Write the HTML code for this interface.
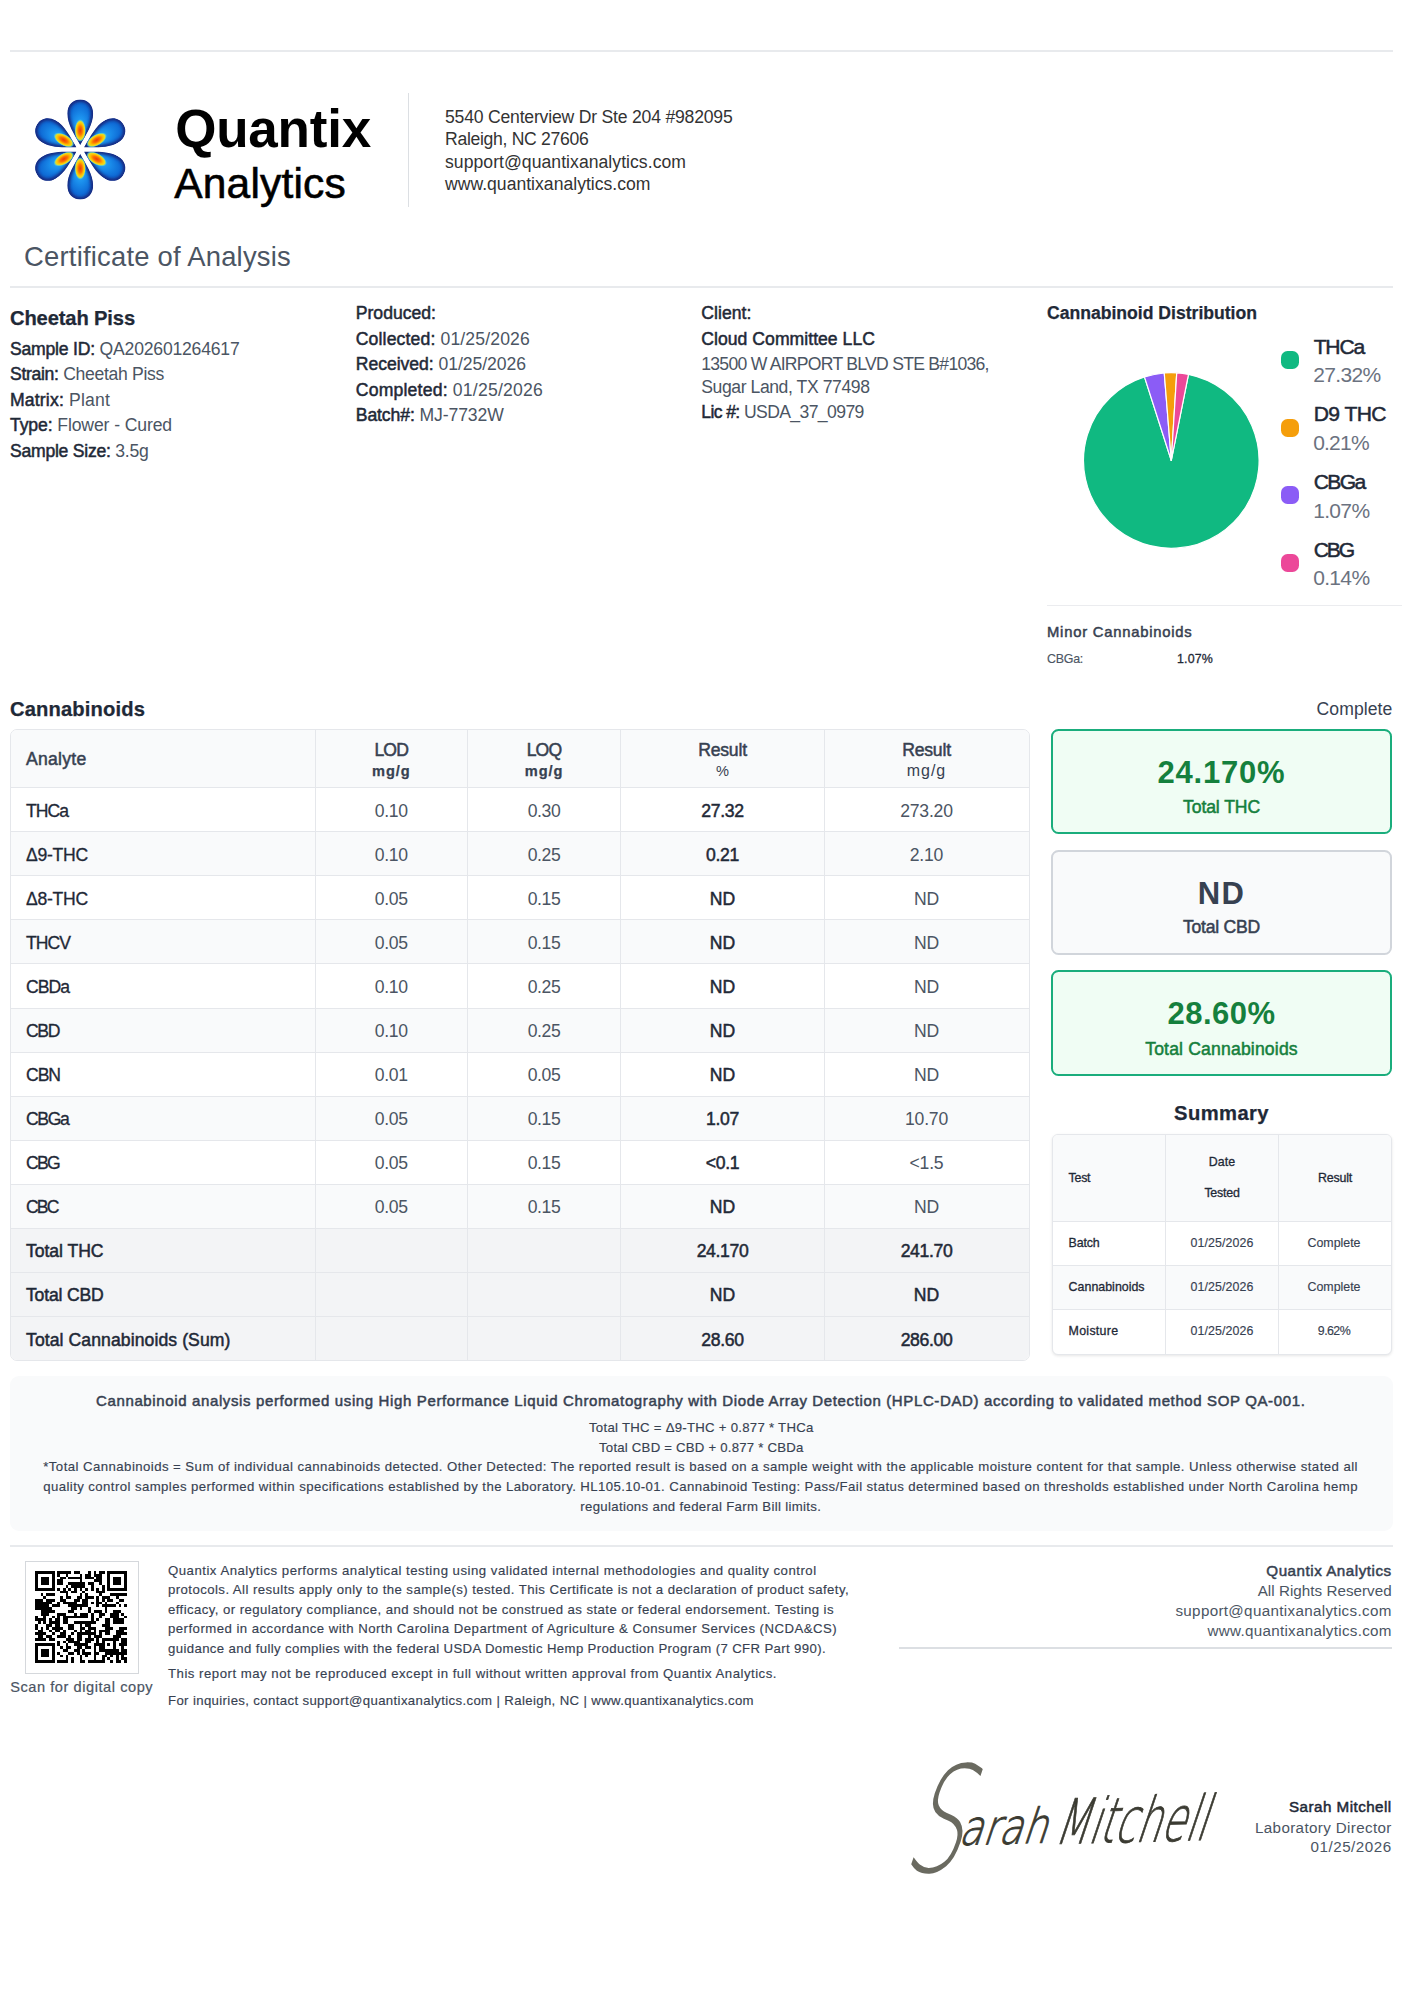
<!DOCTYPE html>
<html lang="en"><head><meta charset="utf-8"><title>Certificate of Analysis - Quantix Analytics</title>
<style>
html,body{margin:0;padding:0;background:#fff}
body{width:1414px;height:2000px;position:relative;overflow:hidden;font-family:'Liberation Sans', sans-serif;}
.t{position:absolute;white-space:nowrap;line-height:1;}
.t::before{content:'';display:inline-block;width:0;height:100px}
.t b{font-weight:400;-webkit-text-stroke:0.5px;color:#1f2937}
</style></head><body>
<div style="position:absolute;left:9.5px;top:50px;width:1383px;height:1.6px;background:#e8eaed"></div>
<div style="position:absolute;left:407.5px;top:93px;width:1.4px;height:114px;background:#dcdfe3"></div>
<div style="position:absolute;left:9.5px;top:286px;width:1383px;height:1.5px;background:#e8eaed"></div>
<svg style="position:absolute;left:0;top:60px" width="200" height="180" viewBox="0 60 200 180">
<defs>
<radialGradient id="pg" gradientUnits="userSpaceOnUse" cx="0" cy="-22" r="30" gradientTransform="translate(0,-22) scale(0.55,1) translate(0,22)">
<stop offset="0" stop-color="#2fb0fa"/><stop offset="0.4" stop-color="#1a8deb"/><stop offset="0.75" stop-color="#0f6cd6"/><stop offset="1" stop-color="#0e57c2"/>
</radialGradient>
<radialGradient id="hg" gradientUnits="userSpaceOnUse" cx="0" cy="-19" r="11.5" gradientTransform="translate(0,-19) scale(0.5,1) translate(0,19)">
<stop offset="0" stop-color="#ee3a06"/><stop offset="0.35" stop-color="#fb7300"/><stop offset="0.6" stop-color="#ffbe00"/><stop offset="0.78" stop-color="#e6de28"/><stop offset="0.88" stop-color="#62cdbf" stop-opacity="0.85"/><stop offset="1" stop-color="#2fb0fa" stop-opacity="0"/>
</radialGradient>
<filter id="bl" x="-30%" y="-30%" width="160%" height="160%"><feGaussianBlur stdDeviation="1.6"/></filter>
<clipPath id="pc"><path d="M0,-4.5 C5.8,-15 12.9,-25 12.9,-36 C12.9,-44.5 7.2,-50 0,-50 C-7.2,-50 -12.9,-44.5 -12.9,-36 C-12.9,-25 -5.8,-15 0,-4.5 Z"/></clipPath>
</defs>
<g transform="translate(80.25,149.5)">
<g transform="rotate(0)"><g clip-path="url(#pc)"><path d="M0,-4.5 C5.8,-15 12.9,-25 12.9,-36 C12.9,-44.5 7.2,-50 0,-50 C-7.2,-50 -12.9,-44.5 -12.9,-36 C-12.9,-25 -5.8,-15 0,-4.5 Z" fill="url(#pg)"/><path d="M0,-4.5 C5.8,-15 12.9,-25 12.9,-36 C12.9,-44.5 7.2,-50 0,-50 C-7.2,-50 -12.9,-44.5 -12.9,-36 C-12.9,-25 -5.8,-15 0,-4.5 Z" fill="none" stroke="#15257a" stroke-width="4.5" filter="url(#bl)"/><ellipse cx="0" cy="-19" rx="5.8" ry="11.5" fill="url(#hg)"/></g></g><g transform="rotate(60)"><g clip-path="url(#pc)"><path d="M0,-4.5 C5.8,-15 12.9,-25 12.9,-36 C12.9,-44.5 7.2,-50 0,-50 C-7.2,-50 -12.9,-44.5 -12.9,-36 C-12.9,-25 -5.8,-15 0,-4.5 Z" fill="url(#pg)"/><path d="M0,-4.5 C5.8,-15 12.9,-25 12.9,-36 C12.9,-44.5 7.2,-50 0,-50 C-7.2,-50 -12.9,-44.5 -12.9,-36 C-12.9,-25 -5.8,-15 0,-4.5 Z" fill="none" stroke="#15257a" stroke-width="4.5" filter="url(#bl)"/><ellipse cx="0" cy="-19" rx="5.8" ry="11.5" fill="url(#hg)"/></g></g><g transform="rotate(120)"><g clip-path="url(#pc)"><path d="M0,-4.5 C5.8,-15 12.9,-25 12.9,-36 C12.9,-44.5 7.2,-50 0,-50 C-7.2,-50 -12.9,-44.5 -12.9,-36 C-12.9,-25 -5.8,-15 0,-4.5 Z" fill="url(#pg)"/><path d="M0,-4.5 C5.8,-15 12.9,-25 12.9,-36 C12.9,-44.5 7.2,-50 0,-50 C-7.2,-50 -12.9,-44.5 -12.9,-36 C-12.9,-25 -5.8,-15 0,-4.5 Z" fill="none" stroke="#15257a" stroke-width="4.5" filter="url(#bl)"/><ellipse cx="0" cy="-19" rx="5.8" ry="11.5" fill="url(#hg)"/></g></g><g transform="rotate(180)"><g clip-path="url(#pc)"><path d="M0,-4.5 C5.8,-15 12.9,-25 12.9,-36 C12.9,-44.5 7.2,-50 0,-50 C-7.2,-50 -12.9,-44.5 -12.9,-36 C-12.9,-25 -5.8,-15 0,-4.5 Z" fill="url(#pg)"/><path d="M0,-4.5 C5.8,-15 12.9,-25 12.9,-36 C12.9,-44.5 7.2,-50 0,-50 C-7.2,-50 -12.9,-44.5 -12.9,-36 C-12.9,-25 -5.8,-15 0,-4.5 Z" fill="none" stroke="#15257a" stroke-width="4.5" filter="url(#bl)"/><ellipse cx="0" cy="-19" rx="5.8" ry="11.5" fill="url(#hg)"/></g></g><g transform="rotate(240)"><g clip-path="url(#pc)"><path d="M0,-4.5 C5.8,-15 12.9,-25 12.9,-36 C12.9,-44.5 7.2,-50 0,-50 C-7.2,-50 -12.9,-44.5 -12.9,-36 C-12.9,-25 -5.8,-15 0,-4.5 Z" fill="url(#pg)"/><path d="M0,-4.5 C5.8,-15 12.9,-25 12.9,-36 C12.9,-44.5 7.2,-50 0,-50 C-7.2,-50 -12.9,-44.5 -12.9,-36 C-12.9,-25 -5.8,-15 0,-4.5 Z" fill="none" stroke="#15257a" stroke-width="4.5" filter="url(#bl)"/><ellipse cx="0" cy="-19" rx="5.8" ry="11.5" fill="url(#hg)"/></g></g><g transform="rotate(300)"><g clip-path="url(#pc)"><path d="M0,-4.5 C5.8,-15 12.9,-25 12.9,-36 C12.9,-44.5 7.2,-50 0,-50 C-7.2,-50 -12.9,-44.5 -12.9,-36 C-12.9,-25 -5.8,-15 0,-4.5 Z" fill="url(#pg)"/><path d="M0,-4.5 C5.8,-15 12.9,-25 12.9,-36 C12.9,-44.5 7.2,-50 0,-50 C-7.2,-50 -12.9,-44.5 -12.9,-36 C-12.9,-25 -5.8,-15 0,-4.5 Z" fill="none" stroke="#15257a" stroke-width="4.5" filter="url(#bl)"/><ellipse cx="0" cy="-19" rx="5.8" ry="11.5" fill="url(#hg)"/></g></g></g></svg>
<svg style="position:absolute;left:1070px;top:360px" width="200" height="200" viewBox="1070 360 200 200"><path d="M1171.3,460.5 L1188.50,374.40 A87.8,87.8 0 1 1 1144.46,376.90 Z" fill="#10b981" stroke="#fff" stroke-width="1.2" stroke-linejoin="round"/><path d="M1171.3,460.5 L1144.46,376.90 A87.8,87.8 0 0 1 1164.26,372.98 Z" fill="#8b5cf6" stroke="#fff" stroke-width="1.2" stroke-linejoin="round"/><path d="M1171.3,460.5 L1164.26,372.98 A87.8,87.8 0 0 1 1176.74,372.87 Z" fill="#f59e0b" stroke="#fff" stroke-width="1.2" stroke-linejoin="round"/><path d="M1171.3,460.5 L1176.74,372.87 A87.8,87.8 0 0 1 1188.50,374.40 Z" fill="#ec4899" stroke="#fff" stroke-width="1.2" stroke-linejoin="round"/></svg>
<div style="position:absolute;left:1281.2px;top:351.0px;width:18px;height:18px;background:#10b981;border-radius:6.5px"></div>
<div style="position:absolute;left:1281.2px;top:418.7px;width:18px;height:18px;background:#f59e0b;border-radius:6.5px"></div>
<div style="position:absolute;left:1281.2px;top:486.4px;width:18px;height:18px;background:#8b5cf6;border-radius:6.5px"></div>
<div style="position:absolute;left:1281.2px;top:554.1px;width:18px;height:18px;background:#ec4899;border-radius:6.5px"></div>
<div style="position:absolute;left:1047px;top:605px;width:355px;height:1.4px;background:#ebecef"></div>
<div style="position:absolute;left:9.5px;top:729px;width:1018.0px;height:629.7px;border:1px solid #e5e7eb;border-radius:7px;overflow:hidden;background:#fff">
<div style="position:absolute;left:0;top:-1px;width:100%;height:59px;background:#f9fafb"></div>
<div style="position:absolute;left:0;top:101.68000000000006px;width:100%;height:44.1px;background:#f9fafb"></div>
<div style="position:absolute;left:0;top:189.84000000000003px;width:100%;height:44.1px;background:#f9fafb"></div>
<div style="position:absolute;left:0;top:278.0px;width:100%;height:44.1px;background:#f9fafb"></div>
<div style="position:absolute;left:0;top:366.1600000000001px;width:100%;height:44.1px;background:#f9fafb"></div>
<div style="position:absolute;left:0;top:454.31999999999994px;width:100%;height:44.1px;background:#f9fafb"></div>
<div style="position:absolute;left:0;top:498.4000000000001px;width:100%;height:45px;background:#f3f4f6"></div>
<div style="position:absolute;left:0;top:542.48px;width:100%;height:45px;background:#f3f4f6"></div>
<div style="position:absolute;left:0;top:586.56px;width:100%;height:45px;background:#f3f4f6"></div>
<div style="position:absolute;left:0;top:57.10000000000002px;width:100%;height:1px;background:#e5e7eb"></div>
<div style="position:absolute;left:0;top:101.18000000000006px;width:100%;height:1px;background:#e5e7eb"></div>
<div style="position:absolute;left:0;top:145.26px;width:100%;height:1px;background:#e5e7eb"></div>
<div style="position:absolute;left:0;top:189.34000000000003px;width:100%;height:1px;background:#e5e7eb"></div>
<div style="position:absolute;left:0;top:233.42000000000007px;width:100%;height:1px;background:#e5e7eb"></div>
<div style="position:absolute;left:0;top:277.5px;width:100%;height:1px;background:#e5e7eb"></div>
<div style="position:absolute;left:0;top:321.5799999999999px;width:100%;height:1px;background:#e5e7eb"></div>
<div style="position:absolute;left:0;top:365.6600000000001px;width:100%;height:1px;background:#e5e7eb"></div>
<div style="position:absolute;left:0;top:409.74px;width:100%;height:1px;background:#e5e7eb"></div>
<div style="position:absolute;left:0;top:453.81999999999994px;width:100%;height:1px;background:#e5e7eb"></div>
<div style="position:absolute;left:0;top:497.9000000000001px;width:100%;height:1px;background:#e5e7eb"></div>
<div style="position:absolute;left:0;top:541.98px;width:100%;height:1px;background:#e5e7eb"></div>
<div style="position:absolute;left:0;top:586.06px;width:100%;height:1px;background:#e5e7eb"></div>
<div style="position:absolute;left:304.0px;top:0;width:1px;height:100%;background:#e5e7eb"></div>
<div style="position:absolute;left:456.2px;top:0;width:1px;height:100%;background:#e5e7eb"></div>
<div style="position:absolute;left:609.8px;top:0;width:1px;height:100%;background:#e5e7eb"></div>
<div style="position:absolute;left:813.4px;top:0;width:1px;height:100%;background:#e5e7eb"></div>
</div>
<div style="position:absolute;left:1052px;top:1133.5px;width:338px;height:219.0px;border:1px solid #e5e7eb;border-radius:6px;overflow:hidden;background:#fff;box-shadow:0 1px 3px rgba(0,0,0,0.10)">
<div style="position:absolute;left:0;top:-1.0px;width:100%;height:88px;background:#f9fafb"></div>
<div style="position:absolute;left:0;top:131.20000000000005px;width:100%;height:44.2px;background:#f9fafb"></div>
<div style="position:absolute;left:0;top:86.29999999999995px;width:100%;height:1px;background:#e5e7eb"></div>
<div style="position:absolute;left:0;top:130.5px;width:100%;height:1px;background:#e5e7eb"></div>
<div style="position:absolute;left:0;top:174.70000000000005px;width:100%;height:1px;background:#e5e7eb"></div>
<div style="position:absolute;left:112.09999999999991px;top:0;width:1px;height:100%;background:#e5e7eb"></div>
<div style="position:absolute;left:224.79999999999995px;top:0;width:1px;height:100%;background:#e5e7eb"></div>
</div>
<div style="position:absolute;left:1051px;top:728.9px;width:336.7px;height:101.2px;border:2.4px solid #1aad7c;background:#f0fdf4;border-radius:7.5px"></div>
<div style="position:absolute;left:1051px;top:850.0px;width:336.7px;height:101.2px;border:2.4px solid #d1d5db;background:#f9fafb;border-radius:7.5px"></div>
<div style="position:absolute;left:1051px;top:970.4px;width:336.7px;height:101.2px;border:2.4px solid #1aad7c;background:#f0fdf4;border-radius:7.5px"></div>
<div style="position:absolute;left:9.5px;top:1375.5px;width:1383px;height:155px;background:#f9fafb;border-radius:9px"></div>
<div style="position:absolute;left:9.5px;top:1545px;width:1383px;height:1.5px;background:#e8eaed"></div>
<div style="position:absolute;left:25px;top:1560.5px;width:111.5px;height:111.5px;border:1px solid #d5d8dc;background:#fff"></div><svg style="position:absolute;left:35px;top:1571px" width="92" height="92" viewBox="0 0 33 33" shape-rendering="crispEdges" fill="#000"><rect x="0" y="0" width="7" height="1"/><rect x="8" y="0" width="5" height="1"/><rect x="14" y="0" width="2" height="1"/><rect x="19" y="0" width="1" height="1"/><rect x="21" y="0" width="1" height="1"/><rect x="23" y="0" width="2" height="1"/><rect x="26" y="0" width="7" height="1"/><rect x="0" y="1" width="1" height="1"/><rect x="6" y="1" width="1" height="1"/><rect x="8" y="1" width="1" height="1"/><rect x="11" y="1" width="1" height="1"/><rect x="16" y="1" width="1" height="1"/><rect x="18" y="1" width="2" height="1"/><rect x="21" y="1" width="3" height="1"/><rect x="26" y="1" width="1" height="1"/><rect x="32" y="1" width="1" height="1"/><rect x="0" y="2" width="1" height="1"/><rect x="2" y="2" width="3" height="1"/><rect x="6" y="2" width="1" height="1"/><rect x="9" y="2" width="2" height="1"/><rect x="12" y="2" width="5" height="1"/><rect x="18" y="2" width="3" height="1"/><rect x="22" y="2" width="2" height="1"/><rect x="26" y="2" width="1" height="1"/><rect x="28" y="2" width="3" height="1"/><rect x="32" y="2" width="1" height="1"/><rect x="0" y="3" width="1" height="1"/><rect x="2" y="3" width="3" height="1"/><rect x="6" y="3" width="1" height="1"/><rect x="8" y="3" width="2" height="1"/><rect x="16" y="3" width="1" height="1"/><rect x="21" y="3" width="3" height="1"/><rect x="26" y="3" width="1" height="1"/><rect x="28" y="3" width="3" height="1"/><rect x="32" y="3" width="1" height="1"/><rect x="0" y="4" width="1" height="1"/><rect x="2" y="4" width="3" height="1"/><rect x="6" y="4" width="1" height="1"/><rect x="8" y="4" width="2" height="1"/><rect x="12" y="4" width="6" height="1"/><rect x="19" y="4" width="2" height="1"/><rect x="23" y="4" width="1" height="1"/><rect x="26" y="4" width="1" height="1"/><rect x="28" y="4" width="3" height="1"/><rect x="32" y="4" width="1" height="1"/><rect x="0" y="5" width="1" height="1"/><rect x="6" y="5" width="1" height="1"/><rect x="11" y="5" width="1" height="1"/><rect x="13" y="5" width="5" height="1"/><rect x="20" y="5" width="1" height="1"/><rect x="24" y="5" width="1" height="1"/><rect x="26" y="5" width="1" height="1"/><rect x="32" y="5" width="1" height="1"/><rect x="0" y="6" width="7" height="1"/><rect x="8" y="6" width="1" height="1"/><rect x="10" y="6" width="1" height="1"/><rect x="12" y="6" width="1" height="1"/><rect x="14" y="6" width="1" height="1"/><rect x="16" y="6" width="1" height="1"/><rect x="18" y="6" width="1" height="1"/><rect x="20" y="6" width="1" height="1"/><rect x="22" y="6" width="1" height="1"/><rect x="24" y="6" width="1" height="1"/><rect x="26" y="6" width="7" height="1"/><rect x="9" y="7" width="3" height="1"/><rect x="13" y="7" width="2" height="1"/><rect x="17" y="7" width="1" height="1"/><rect x="22" y="7" width="3" height="1"/><rect x="2" y="8" width="1" height="1"/><rect x="4" y="8" width="3" height="1"/><rect x="11" y="8" width="1" height="1"/><rect x="16" y="8" width="1" height="1"/><rect x="18" y="8" width="1" height="1"/><rect x="23" y="8" width="1" height="1"/><rect x="27" y="8" width="6" height="1"/><rect x="3" y="9" width="1" height="1"/><rect x="9" y="9" width="1" height="1"/><rect x="11" y="9" width="2" height="1"/><rect x="15" y="9" width="2" height="1"/><rect x="18" y="9" width="3" height="1"/><rect x="22" y="9" width="1" height="1"/><rect x="24" y="9" width="3" height="1"/><rect x="29" y="9" width="1" height="1"/><rect x="0" y="10" width="3" height="1"/><rect x="4" y="10" width="3" height="1"/><rect x="9" y="10" width="2" height="1"/><rect x="14" y="10" width="2" height="1"/><rect x="17" y="10" width="2" height="1"/><rect x="22" y="10" width="1" height="1"/><rect x="24" y="10" width="1" height="1"/><rect x="26" y="10" width="2" height="1"/><rect x="30" y="10" width="2" height="1"/><rect x="0" y="11" width="6" height="1"/><rect x="8" y="11" width="1" height="1"/><rect x="10" y="11" width="5" height="1"/><rect x="17" y="11" width="2" height="1"/><rect x="20" y="11" width="1" height="1"/><rect x="22" y="11" width="2" height="1"/><rect x="25" y="11" width="1" height="1"/><rect x="29" y="11" width="1" height="1"/><rect x="0" y="12" width="5" height="1"/><rect x="6" y="12" width="3" height="1"/><rect x="12" y="12" width="7" height="1"/><rect x="22" y="12" width="1" height="1"/><rect x="24" y="12" width="5" height="1"/><rect x="30" y="12" width="1" height="1"/><rect x="32" y="12" width="1" height="1"/><rect x="0" y="13" width="6" height="1"/><rect x="13" y="13" width="2" height="1"/><rect x="16" y="13" width="1" height="1"/><rect x="19" y="13" width="1" height="1"/><rect x="25" y="13" width="1" height="1"/><rect x="2" y="14" width="5" height="1"/><rect x="12" y="14" width="2" height="1"/><rect x="19" y="14" width="1" height="1"/><rect x="21" y="14" width="3" height="1"/><rect x="25" y="14" width="1" height="1"/><rect x="28" y="14" width="3" height="1"/><rect x="2" y="15" width="3" height="1"/><rect x="8" y="15" width="3" height="1"/><rect x="14" y="15" width="1" height="1"/><rect x="16" y="15" width="3" height="1"/><rect x="20" y="15" width="1" height="1"/><rect x="23" y="15" width="2" height="1"/><rect x="27" y="15" width="3" height="1"/><rect x="31" y="15" width="1" height="1"/><rect x="0" y="16" width="1" height="1"/><rect x="3" y="16" width="1" height="1"/><rect x="6" y="16" width="1" height="1"/><rect x="8" y="16" width="1" height="1"/><rect x="10" y="16" width="9" height="1"/><rect x="20" y="16" width="1" height="1"/><rect x="23" y="16" width="1" height="1"/><rect x="27" y="16" width="3" height="1"/><rect x="32" y="16" width="1" height="1"/><rect x="0" y="17" width="4" height="1"/><rect x="5" y="17" width="1" height="1"/><rect x="7" y="17" width="2" height="1"/><rect x="10" y="17" width="2" height="1"/><rect x="20" y="17" width="1" height="1"/><rect x="22" y="17" width="1" height="1"/><rect x="25" y="17" width="2" height="1"/><rect x="28" y="17" width="4" height="1"/><rect x="1" y="18" width="1" height="1"/><rect x="3" y="18" width="1" height="1"/><rect x="5" y="18" width="4" height="1"/><rect x="10" y="18" width="2" height="1"/><rect x="14" y="18" width="8" height="1"/><rect x="25" y="18" width="2" height="1"/><rect x="28" y="18" width="4" height="1"/><rect x="0" y="19" width="1" height="1"/><rect x="4" y="19" width="2" height="1"/><rect x="7" y="19" width="2" height="1"/><rect x="12" y="19" width="2" height="1"/><rect x="16" y="19" width="1" height="1"/><rect x="18" y="19" width="2" height="1"/><rect x="24" y="19" width="3" height="1"/><rect x="0" y="20" width="1" height="1"/><rect x="2" y="20" width="1" height="1"/><rect x="4" y="20" width="1" height="1"/><rect x="6" y="20" width="4" height="1"/><rect x="12" y="20" width="2" height="1"/><rect x="16" y="20" width="2" height="1"/><rect x="19" y="20" width="3" height="1"/><rect x="25" y="20" width="3" height="1"/><rect x="30" y="20" width="3" height="1"/><rect x="1" y="21" width="2" height="1"/><rect x="5" y="21" width="1" height="1"/><rect x="7" y="21" width="2" height="1"/><rect x="10" y="21" width="1" height="1"/><rect x="14" y="21" width="1" height="1"/><rect x="16" y="21" width="1" height="1"/><rect x="18" y="21" width="2" height="1"/><rect x="21" y="21" width="1" height="1"/><rect x="23" y="21" width="4" height="1"/><rect x="29" y="21" width="3" height="1"/><rect x="0" y="22" width="4" height="1"/><rect x="6" y="22" width="1" height="1"/><rect x="9" y="22" width="2" height="1"/><rect x="13" y="22" width="1" height="1"/><rect x="15" y="22" width="7" height="1"/><rect x="23" y="22" width="1" height="1"/><rect x="25" y="22" width="2" height="1"/><rect x="29" y="22" width="4" height="1"/><rect x="1" y="23" width="2" height="1"/><rect x="4" y="23" width="2" height="1"/><rect x="8" y="23" width="3" height="1"/><rect x="12" y="23" width="1" height="1"/><rect x="15" y="23" width="2" height="1"/><rect x="19" y="23" width="1" height="1"/><rect x="21" y="23" width="3" height="1"/><rect x="28" y="23" width="3" height="1"/><rect x="0" y="24" width="4" height="1"/><rect x="5" y="24" width="2" height="1"/><rect x="11" y="24" width="3" height="1"/><rect x="15" y="24" width="2" height="1"/><rect x="18" y="24" width="3" height="1"/><rect x="22" y="24" width="1" height="1"/><rect x="24" y="24" width="6" height="1"/><rect x="31" y="24" width="2" height="1"/><rect x="8" y="25" width="1" height="1"/><rect x="10" y="25" width="1" height="1"/><rect x="12" y="25" width="4" height="1"/><rect x="18" y="25" width="2" height="1"/><rect x="22" y="25" width="1" height="1"/><rect x="24" y="25" width="1" height="1"/><rect x="28" y="25" width="1" height="1"/><rect x="31" y="25" width="2" height="1"/><rect x="0" y="26" width="7" height="1"/><rect x="8" y="26" width="1" height="1"/><rect x="11" y="26" width="1" height="1"/><rect x="14" y="26" width="5" height="1"/><rect x="21" y="26" width="4" height="1"/><rect x="26" y="26" width="1" height="1"/><rect x="28" y="26" width="1" height="1"/><rect x="30" y="26" width="3" height="1"/><rect x="0" y="27" width="1" height="1"/><rect x="6" y="27" width="1" height="1"/><rect x="9" y="27" width="1" height="1"/><rect x="11" y="27" width="2" height="1"/><rect x="15" y="27" width="2" height="1"/><rect x="18" y="27" width="2" height="1"/><rect x="21" y="27" width="1" height="1"/><rect x="23" y="27" width="2" height="1"/><rect x="28" y="27" width="1" height="1"/><rect x="31" y="27" width="1" height="1"/><rect x="0" y="28" width="1" height="1"/><rect x="2" y="28" width="3" height="1"/><rect x="6" y="28" width="1" height="1"/><rect x="10" y="28" width="2" height="1"/><rect x="14" y="28" width="2" height="1"/><rect x="17" y="28" width="1" height="1"/><rect x="21" y="28" width="1" height="1"/><rect x="23" y="28" width="7" height="1"/><rect x="31" y="28" width="2" height="1"/><rect x="0" y="29" width="1" height="1"/><rect x="2" y="29" width="3" height="1"/><rect x="6" y="29" width="1" height="1"/><rect x="8" y="29" width="1" height="1"/><rect x="12" y="29" width="2" height="1"/><rect x="15" y="29" width="1" height="1"/><rect x="17" y="29" width="3" height="1"/><rect x="21" y="29" width="2" height="1"/><rect x="25" y="29" width="8" height="1"/><rect x="0" y="30" width="1" height="1"/><rect x="2" y="30" width="3" height="1"/><rect x="6" y="30" width="1" height="1"/><rect x="9" y="30" width="1" height="1"/><rect x="11" y="30" width="1" height="1"/><rect x="16" y="30" width="1" height="1"/><rect x="18" y="30" width="1" height="1"/><rect x="21" y="30" width="1" height="1"/><rect x="24" y="30" width="2" height="1"/><rect x="27" y="30" width="1" height="1"/><rect x="29" y="30" width="1" height="1"/><rect x="31" y="30" width="1" height="1"/><rect x="0" y="31" width="1" height="1"/><rect x="6" y="31" width="1" height="1"/><rect x="11" y="31" width="1" height="1"/><rect x="13" y="31" width="1" height="1"/><rect x="16" y="31" width="1" height="1"/><rect x="21" y="31" width="1" height="1"/><rect x="24" y="31" width="1" height="1"/><rect x="26" y="31" width="1" height="1"/><rect x="29" y="31" width="1" height="1"/><rect x="31" y="31" width="2" height="1"/><rect x="0" y="32" width="7" height="1"/><rect x="8" y="32" width="4" height="1"/><rect x="13" y="32" width="1" height="1"/><rect x="16" y="32" width="2" height="1"/><rect x="19" y="32" width="6" height="1"/><rect x="27" y="32" width="1" height="1"/><rect x="29" y="32" width="2" height="1"/><rect x="32" y="32" width="1" height="1"/></svg>
<div style="position:absolute;left:899px;top:1647px;width:493px;height:1.5px;background:#dcdfe3"></div>
<svg style="position:absolute;left:900px;top:1750px" width="340" height="140" viewBox="900 1750 340 140">
<g transform="translate(958,1845) rotate(-1.5) skewX(-20)" font-family="'DejaVu Sans Light','DejaVu Sans','Liberation Sans',sans-serif" font-weight="200" fill="#3b3b32" stroke="#3b3b32">
<text font-size="48" stroke-width="1"><tspan x="-49" y="26" font-size="146" textLength="58" lengthAdjust="spacingAndGlyphs" fill="#6a6a60" stroke-width="0">S</tspan><tspan x="0" y="0" textLength="88" lengthAdjust="spacingAndGlyphs">arah</tspan> <tspan x="96" y="1.5" font-size="62" stroke-width="0.9" textLength="152" lengthAdjust="spacingAndGlyphs">Mitchell</tspan></text>
</g></svg>
<div class="t" style="font-size:53px;color:#000;top:46.90px;font-weight:700;letter-spacing:-0.216px;left:175.2px;"><span>Quantix</span></div>
<div class="t" style="font-size:42.5px;color:#000;top:98.30px;letter-spacing:0.193px;left:174.2px;-webkit-text-stroke:0.6px;"><span>Analytics</span></div>
<div class="t" style="font-size:17.6px;color:#333;top:23.30px;letter-spacing:-0.203px;left:445px;"><span>5540 Centerview Dr Ste 204 #982095</span></div>
<div class="t" style="font-size:17.6px;color:#333;top:45.45px;letter-spacing:-0.304px;left:445px;"><span>Raleigh, NC 27606</span></div>
<div class="t" style="font-size:17.6px;color:#333;top:67.60px;letter-spacing:0.041px;left:445px;"><span>support@quantixanalytics.com</span></div>
<div class="t" style="font-size:17.6px;color:#333;top:89.75px;letter-spacing:0.007px;left:445px;"><span>www.quantixanalytics.com</span></div>
<div class="t" style="font-size:27.4px;color:#4b5563;top:166.00px;letter-spacing:0.224px;left:24px;"><span>Certificate of Analysis</span></div>
<div class="t" style="font-size:20.2px;color:#1f2937;top:224.80px;font-weight:700;-webkit-text-stroke:0.25px;letter-spacing:-0.150px;left:10px;"><span>Cheetah Piss</span></div>
<div class="t" style="font-size:17.6px;color:#4b5563;top:254.55px;letter-spacing:-0.211px;left:10px;"><span><b>Sample ID:</b> QA202601264617</span></div>
<div class="t" style="font-size:17.6px;color:#4b5563;top:280.10px;letter-spacing:-0.320px;left:10px;"><span><b>Strain:</b> Cheetah Piss</span></div>
<div class="t" style="font-size:17.6px;color:#4b5563;top:305.65px;letter-spacing:0.171px;left:10px;"><span><b>Matrix:</b> Plant</span></div>
<div class="t" style="font-size:17.6px;color:#4b5563;top:331.20px;letter-spacing:-0.113px;left:10px;"><span><b>Type:</b> Flower - Cured</span></div>
<div class="t" style="font-size:17.6px;color:#4b5563;top:356.75px;letter-spacing:-0.253px;left:10px;"><span><b>Sample Size:</b> 3.5g</span></div>
<div class="t" style="font-size:17.6px;color:#4b5563;top:219.05px;letter-spacing:0.005px;left:355.75px;"><span><b>Produced:</b></span></div>
<div class="t" style="font-size:17.6px;color:#4b5563;top:244.65px;letter-spacing:0.145px;left:355.75px;"><span><b>Collected:</b> 01/25/2026</span></div>
<div class="t" style="font-size:17.6px;color:#4b5563;top:270.25px;letter-spacing:-0.048px;left:355.75px;"><span><b>Received:</b> 01/25/2026</span></div>
<div class="t" style="font-size:17.6px;color:#4b5563;top:295.85px;letter-spacing:0.205px;left:355.75px;"><span><b>Completed:</b> 01/25/2026</span></div>
<div class="t" style="font-size:17.6px;color:#4b5563;top:321.45px;letter-spacing:-0.102px;left:355.75px;"><span><b>Batch#:</b> MJ-7732W</span></div>
<div class="t" style="font-size:17.6px;color:#4b5563;top:219.05px;letter-spacing:0.054px;left:701.25px;"><span><b>Client:</b></span></div>
<div class="t" style="font-size:17.6px;color:#4b5563;top:244.80px;letter-spacing:0.035px;left:701.25px;"><span><b>Cloud Committee LLC</b></span></div>
<div class="t" style="font-size:17.6px;color:#4b5563;top:269.80px;letter-spacing:-0.734px;left:701.25px;"><span>13500 W AIRPORT BLVD STE B#1036,</span></div>
<div class="t" style="font-size:17.6px;color:#4b5563;top:292.80px;letter-spacing:-0.424px;left:701.25px;"><span>Sugar Land, TX 77498</span></div>
<div class="t" style="font-size:17.6px;color:#4b5563;top:317.80px;letter-spacing:-0.612px;left:701.25px;"><span><b>Lic #:</b> USDA_37_0979</span></div>
<div class="t" style="font-size:17.6px;color:#1f2937;top:218.90px;font-weight:700;-webkit-text-stroke:0.25px;letter-spacing:-0.006px;left:1047px;"><span>Cannabinoid Distribution</span></div>
<div class="t" style="font-size:21.1px;color:#1f2937;top:253.50px;-webkit-text-stroke:0.5px;letter-spacing:-1.198px;left:1313.7px;"><span>THCa</span></div>
<div class="t" style="font-size:21px;color:#6b7280;top:282.20px;letter-spacing:-0.656px;left:1313.2px;"><span>27.32%</span></div>
<div class="t" style="font-size:21.1px;color:#1f2937;top:321.20px;-webkit-text-stroke:0.5px;letter-spacing:-0.583px;left:1313.7px;"><span>D9 THC</span></div>
<div class="t" style="font-size:21px;color:#6b7280;top:349.90px;letter-spacing:-0.789px;left:1313.2px;"><span>0.21%</span></div>
<div class="t" style="font-size:21.1px;color:#1f2937;top:388.90px;-webkit-text-stroke:0.5px;letter-spacing:-1.663px;left:1313.7px;"><span>CBGa</span></div>
<div class="t" style="font-size:21px;color:#6b7280;top:417.60px;letter-spacing:-0.669px;left:1313.2px;"><span>1.07%</span></div>
<div class="t" style="font-size:21.1px;color:#1f2937;top:456.60px;-webkit-text-stroke:0.5px;letter-spacing:-2.140px;left:1313.7px;"><span>CBG</span></div>
<div class="t" style="font-size:21px;color:#6b7280;top:485.30px;letter-spacing:-0.669px;left:1313.2px;"><span>0.14%</span></div>
<div class="t" style="font-size:14.8px;color:#374151;top:536.50px;-webkit-text-stroke:0.5px;letter-spacing:0.772px;left:1047px;"><span>Minor Cannabinoids</span></div>
<div class="t" style="font-size:12.4px;color:#4b5563;top:562.60px;-webkit-text-stroke:0.15px;letter-spacing:-0.237px;left:1047px;"><span>CBGa:</span></div>
<div class="t" style="font-size:12.4px;color:#1f2937;top:562.60px;-webkit-text-stroke:0.3px;letter-spacing:0.172px;left:1177px;"><span>1.07%</span></div>
<div class="t" style="font-size:20.2px;color:#1f2937;top:615.80px;font-weight:700;-webkit-text-stroke:0.25px;letter-spacing:0.128px;left:10px;"><span>Cannabinoids</span></div>
<div class="t" style="font-size:17.6px;color:#374151;top:614.60px;letter-spacing:0.073px;right:21.60px;"><span>Complete</span></div>
<div class="t" style="font-size:17.6px;color:#374151;top:665.30px;-webkit-text-stroke:0.5px;letter-spacing:0.259px;left:26px;"><span>Analyte</span></div>
<div class="t" style="font-size:17.6px;color:#374151;top:656.05px;-webkit-text-stroke:0.5px;letter-spacing:-0.812px;left:91.25px;width:600px;text-align:center;"><span>LOD</span></div>
<div class="t" style="font-size:14.6px;color:#374151;top:675.80px;font-weight:700;-webkit-text-stroke:0.25px;letter-spacing:0.906px;left:91.25px;width:600px;text-align:center;"><span>mg/g</span></div>
<div class="t" style="font-size:17.6px;color:#374151;top:656.05px;-webkit-text-stroke:0.5px;letter-spacing:-0.802px;left:244px;width:600px;text-align:center;"><span>LOQ</span></div>
<div class="t" style="font-size:14.6px;color:#374151;top:675.80px;font-weight:700;-webkit-text-stroke:0.25px;letter-spacing:0.906px;left:244px;width:600px;text-align:center;"><span>mg/g</span></div>
<div class="t" style="font-size:17.6px;color:#374151;top:656.05px;-webkit-text-stroke:0.5px;letter-spacing:-0.196px;left:422.5px;width:600px;text-align:center;"><span>Result</span></div>
<div class="t" style="font-size:14.6px;color:#374151;top:675.80px;letter-spacing:-0.175px;left:422.5px;width:600px;text-align:center;"><span>%</span></div>
<div class="t" style="font-size:17.6px;color:#374151;top:656.05px;-webkit-text-stroke:0.5px;letter-spacing:-0.196px;left:626.5px;width:600px;text-align:center;"><span>Result</span></div>
<div class="t" style="font-size:16px;color:#374151;top:675.80px;letter-spacing:0.930px;left:626.5px;width:600px;text-align:center;"><span>mg/g</span></div>
<div class="t" style="font-size:17.6px;color:#1f2937;top:716.55px;-webkit-text-stroke:0.3px;letter-spacing:-0.988px;left:26px;"><span>THCa</span></div>
<div class="t" style="font-size:17.6px;color:#4b5563;top:716.55px;letter-spacing:-0.312px;left:91.25px;width:600px;text-align:center;"><span>0.10</span></div>
<div class="t" style="font-size:17.6px;color:#4b5563;top:716.55px;letter-spacing:-0.387px;left:244px;width:600px;text-align:center;"><span>0.30</span></div>
<div class="t" style="font-size:17.6px;color:#1f2937;top:716.55px;-webkit-text-stroke:0.5px;letter-spacing:-0.352px;left:422.5px;width:600px;text-align:center;"><span>27.32</span></div>
<div class="t" style="font-size:17.6px;color:#4b5563;top:716.55px;letter-spacing:-0.211px;left:626.5px;width:600px;text-align:center;"><span>273.20</span></div>
<div class="t" style="font-size:17.6px;color:#1f2937;top:760.63px;-webkit-text-stroke:0.3px;letter-spacing:-0.260px;left:26px;"><span>Δ9-THC</span></div>
<div class="t" style="font-size:17.6px;color:#4b5563;top:760.63px;letter-spacing:-0.312px;left:91.25px;width:600px;text-align:center;"><span>0.10</span></div>
<div class="t" style="font-size:17.6px;color:#4b5563;top:760.63px;letter-spacing:-0.387px;left:244px;width:600px;text-align:center;"><span>0.25</span></div>
<div class="t" style="font-size:17.6px;color:#1f2937;top:760.63px;-webkit-text-stroke:0.5px;letter-spacing:-0.352px;left:422.5px;width:600px;text-align:center;"><span>0.21</span></div>
<div class="t" style="font-size:17.6px;color:#4b5563;top:760.63px;letter-spacing:-0.211px;left:626.5px;width:600px;text-align:center;"><span>2.10</span></div>
<div class="t" style="font-size:17.6px;color:#1f2937;top:804.71px;-webkit-text-stroke:0.3px;letter-spacing:-0.260px;left:26px;"><span>Δ8-THC</span></div>
<div class="t" style="font-size:17.6px;color:#4b5563;top:804.71px;letter-spacing:-0.312px;left:91.25px;width:600px;text-align:center;"><span>0.05</span></div>
<div class="t" style="font-size:17.6px;color:#4b5563;top:804.71px;letter-spacing:-0.387px;left:244px;width:600px;text-align:center;"><span>0.15</span></div>
<div class="t" style="font-size:17.6px;color:#1f2937;top:804.71px;-webkit-text-stroke:0.5px;letter-spacing:0.039px;left:422.5px;width:600px;text-align:center;"><span>ND</span></div>
<div class="t" style="font-size:17.6px;color:#4b5563;top:804.71px;letter-spacing:-0.211px;left:626.5px;width:600px;text-align:center;"><span>ND</span></div>
<div class="t" style="font-size:17.6px;color:#1f2937;top:848.79px;-webkit-text-stroke:0.3px;letter-spacing:-0.977px;left:26px;"><span>THCV</span></div>
<div class="t" style="font-size:17.6px;color:#4b5563;top:848.79px;letter-spacing:-0.312px;left:91.25px;width:600px;text-align:center;"><span>0.05</span></div>
<div class="t" style="font-size:17.6px;color:#4b5563;top:848.79px;letter-spacing:-0.387px;left:244px;width:600px;text-align:center;"><span>0.15</span></div>
<div class="t" style="font-size:17.6px;color:#1f2937;top:848.79px;-webkit-text-stroke:0.5px;letter-spacing:0.039px;left:422.5px;width:600px;text-align:center;"><span>ND</span></div>
<div class="t" style="font-size:17.6px;color:#4b5563;top:848.79px;letter-spacing:-0.211px;left:626.5px;width:600px;text-align:center;"><span>ND</span></div>
<div class="t" style="font-size:17.6px;color:#1f2937;top:892.87px;-webkit-text-stroke:0.3px;letter-spacing:-0.984px;left:26px;"><span>CBDa</span></div>
<div class="t" style="font-size:17.6px;color:#4b5563;top:892.87px;letter-spacing:-0.312px;left:91.25px;width:600px;text-align:center;"><span>0.10</span></div>
<div class="t" style="font-size:17.6px;color:#4b5563;top:892.87px;letter-spacing:-0.387px;left:244px;width:600px;text-align:center;"><span>0.25</span></div>
<div class="t" style="font-size:17.6px;color:#1f2937;top:892.87px;-webkit-text-stroke:0.5px;letter-spacing:0.039px;left:422.5px;width:600px;text-align:center;"><span>ND</span></div>
<div class="t" style="font-size:17.6px;color:#4b5563;top:892.87px;letter-spacing:-0.211px;left:626.5px;width:600px;text-align:center;"><span>ND</span></div>
<div class="t" style="font-size:17.6px;color:#1f2937;top:936.95px;-webkit-text-stroke:0.3px;letter-spacing:-1.385px;left:26px;"><span>CBD</span></div>
<div class="t" style="font-size:17.6px;color:#4b5563;top:936.95px;letter-spacing:-0.312px;left:91.25px;width:600px;text-align:center;"><span>0.10</span></div>
<div class="t" style="font-size:17.6px;color:#4b5563;top:936.95px;letter-spacing:-0.387px;left:244px;width:600px;text-align:center;"><span>0.25</span></div>
<div class="t" style="font-size:17.6px;color:#1f2937;top:936.95px;-webkit-text-stroke:0.5px;letter-spacing:0.039px;left:422.5px;width:600px;text-align:center;"><span>ND</span></div>
<div class="t" style="font-size:17.6px;color:#4b5563;top:936.95px;letter-spacing:-0.211px;left:626.5px;width:600px;text-align:center;"><span>ND</span></div>
<div class="t" style="font-size:17.6px;color:#1f2937;top:981.03px;-webkit-text-stroke:0.3px;letter-spacing:-1.052px;left:26px;"><span>CBN</span></div>
<div class="t" style="font-size:17.6px;color:#4b5563;top:981.03px;letter-spacing:-0.312px;left:91.25px;width:600px;text-align:center;"><span>0.01</span></div>
<div class="t" style="font-size:17.6px;color:#4b5563;top:981.03px;letter-spacing:-0.387px;left:244px;width:600px;text-align:center;"><span>0.05</span></div>
<div class="t" style="font-size:17.6px;color:#1f2937;top:981.03px;-webkit-text-stroke:0.5px;letter-spacing:0.039px;left:422.5px;width:600px;text-align:center;"><span>ND</span></div>
<div class="t" style="font-size:17.6px;color:#4b5563;top:981.03px;letter-spacing:-0.211px;left:626.5px;width:600px;text-align:center;"><span>ND</span></div>
<div class="t" style="font-size:17.6px;color:#1f2937;top:1025.11px;-webkit-text-stroke:0.3px;letter-spacing:-1.355px;left:26px;"><span>CBGa</span></div>
<div class="t" style="font-size:17.6px;color:#4b5563;top:1025.11px;letter-spacing:-0.312px;left:91.25px;width:600px;text-align:center;"><span>0.05</span></div>
<div class="t" style="font-size:17.6px;color:#4b5563;top:1025.11px;letter-spacing:-0.387px;left:244px;width:600px;text-align:center;"><span>0.15</span></div>
<div class="t" style="font-size:17.6px;color:#1f2937;top:1025.11px;-webkit-text-stroke:0.5px;letter-spacing:-0.352px;left:422.5px;width:600px;text-align:center;"><span>1.07</span></div>
<div class="t" style="font-size:17.6px;color:#4b5563;top:1025.11px;letter-spacing:-0.211px;left:626.5px;width:600px;text-align:center;"><span>10.70</span></div>
<div class="t" style="font-size:17.6px;color:#1f2937;top:1069.19px;-webkit-text-stroke:0.3px;letter-spacing:-1.714px;left:26px;"><span>CBG</span></div>
<div class="t" style="font-size:17.6px;color:#4b5563;top:1069.19px;letter-spacing:-0.312px;left:91.25px;width:600px;text-align:center;"><span>0.05</span></div>
<div class="t" style="font-size:17.6px;color:#4b5563;top:1069.19px;letter-spacing:-0.387px;left:244px;width:600px;text-align:center;"><span>0.15</span></div>
<div class="t" style="font-size:17.6px;color:#1f2937;top:1069.19px;-webkit-text-stroke:0.5px;letter-spacing:-0.352px;left:422.5px;width:600px;text-align:center;"><span>&lt;0.1</span></div>
<div class="t" style="font-size:17.6px;color:#4b5563;top:1069.19px;letter-spacing:-0.211px;left:626.5px;width:600px;text-align:center;"><span>&lt;1.5</span></div>
<div class="t" style="font-size:17.6px;color:#1f2937;top:1113.27px;-webkit-text-stroke:0.3px;letter-spacing:-1.885px;left:26px;"><span>CBC</span></div>
<div class="t" style="font-size:17.6px;color:#4b5563;top:1113.27px;letter-spacing:-0.312px;left:91.25px;width:600px;text-align:center;"><span>0.05</span></div>
<div class="t" style="font-size:17.6px;color:#4b5563;top:1113.27px;letter-spacing:-0.387px;left:244px;width:600px;text-align:center;"><span>0.15</span></div>
<div class="t" style="font-size:17.6px;color:#1f2937;top:1113.27px;-webkit-text-stroke:0.5px;letter-spacing:0.039px;left:422.5px;width:600px;text-align:center;"><span>ND</span></div>
<div class="t" style="font-size:17.6px;color:#4b5563;top:1113.27px;letter-spacing:-0.211px;left:626.5px;width:600px;text-align:center;"><span>ND</span></div>
<div class="t" style="font-size:17.6px;color:#1f2937;top:1157.35px;-webkit-text-stroke:0.5px;letter-spacing:-0.045px;left:26px;"><span>Total THC</span></div>
<div class="t" style="font-size:17.6px;color:#1f2937;top:1157.35px;-webkit-text-stroke:0.5px;letter-spacing:-0.352px;left:422.5px;width:600px;text-align:center;"><span>24.170</span></div>
<div class="t" style="font-size:17.6px;color:#1f2937;top:1157.35px;-webkit-text-stroke:0.5px;letter-spacing:-0.352px;left:626.5px;width:600px;text-align:center;"><span>241.70</span></div>
<div class="t" style="font-size:17.6px;color:#1f2937;top:1201.43px;-webkit-text-stroke:0.5px;letter-spacing:-0.189px;left:26px;"><span>Total CBD</span></div>
<div class="t" style="font-size:17.6px;color:#1f2937;top:1201.43px;-webkit-text-stroke:0.5px;letter-spacing:0.039px;left:422.5px;width:600px;text-align:center;"><span>ND</span></div>
<div class="t" style="font-size:17.6px;color:#1f2937;top:1201.43px;-webkit-text-stroke:0.5px;letter-spacing:0.039px;left:626.5px;width:600px;text-align:center;"><span>ND</span></div>
<div class="t" style="font-size:17.6px;color:#1f2937;top:1245.51px;-webkit-text-stroke:0.5px;letter-spacing:0.086px;left:26px;"><span>Total Cannabinoids (Sum)</span></div>
<div class="t" style="font-size:17.6px;color:#1f2937;top:1245.51px;-webkit-text-stroke:0.5px;letter-spacing:-0.352px;left:422.5px;width:600px;text-align:center;"><span>28.60</span></div>
<div class="t" style="font-size:17.6px;color:#1f2937;top:1245.51px;-webkit-text-stroke:0.5px;letter-spacing:-0.352px;left:626.5px;width:600px;text-align:center;"><span>286.00</span></div>
<div class="t" style="font-size:31px;color:#15803d;top:682.90px;font-weight:700;letter-spacing:0.773px;left:921.5px;width:600px;text-align:center;"><span>24.170%</span></div>
<div class="t" style="font-size:17.6px;color:#15803d;top:712.80px;-webkit-text-stroke:0.5px;letter-spacing:-0.101px;left:921.5px;width:600px;text-align:center;"><span>Total THC</span></div>
<div class="t" style="font-size:31px;color:#374151;top:803.90px;font-weight:700;letter-spacing:1.359px;left:921.5px;width:600px;text-align:center;"><span>ND</span></div>
<div class="t" style="font-size:17.6px;color:#374151;top:833.30px;-webkit-text-stroke:0.5px;letter-spacing:-0.245px;left:921.5px;width:600px;text-align:center;"><span>Total CBD</span></div>
<div class="t" style="font-size:31px;color:#15803d;top:924.30px;font-weight:700;letter-spacing:0.477px;left:921.5px;width:600px;text-align:center;"><span>28.60%</span></div>
<div class="t" style="font-size:17.6px;color:#15803d;top:954.80px;-webkit-text-stroke:0.5px;letter-spacing:0.164px;left:921.5px;width:600px;text-align:center;"><span>Total Cannabinoids</span></div>
<div class="t" style="font-size:20.2px;color:#1f2937;top:1019.60px;font-weight:700;-webkit-text-stroke:0.25px;letter-spacing:0.426px;left:921.5px;width:600px;text-align:center;"><span>Summary</span></div>
<div class="t" style="font-size:12.4px;color:#1f2937;top:1081.60px;-webkit-text-stroke:0.3px;letter-spacing:-0.259px;left:1068.6px;"><span>Test</span></div>
<div class="t" style="font-size:12.4px;color:#1f2937;top:1065.90px;-webkit-text-stroke:0.3px;letter-spacing:0.078px;left:922px;width:600px;text-align:center;"><span>Date</span></div>
<div class="t" style="font-size:12.4px;color:#1f2937;top:1097.40px;-webkit-text-stroke:0.3px;letter-spacing:-0.219px;left:922px;width:600px;text-align:center;"><span>Tested</span></div>
<div class="t" style="font-size:12.4px;color:#1f2937;top:1081.60px;-webkit-text-stroke:0.3px;letter-spacing:-0.171px;left:1035px;width:600px;text-align:center;"><span>Result</span></div>
<div class="t" style="font-size:12.4px;color:#1f2937;top:1147.20px;-webkit-text-stroke:0.3px;letter-spacing:-0.138px;left:1068.6px;"><span>Batch</span></div>
<div class="t" style="font-size:12.4px;color:#374151;top:1147.20px;-webkit-text-stroke:0.15px;letter-spacing:0.098px;left:922px;width:600px;text-align:center;"><span>01/25/2026</span></div>
<div class="t" style="font-size:12.4px;color:#374151;top:1147.20px;-webkit-text-stroke:0.15px;letter-spacing:-0.004px;left:1034px;width:600px;text-align:center;"><span>Complete</span></div>
<div class="t" style="font-size:12.4px;color:#1f2937;top:1191.25px;-webkit-text-stroke:0.3px;letter-spacing:0.018px;left:1068.6px;"><span>Cannabinoids</span></div>
<div class="t" style="font-size:12.4px;color:#374151;top:1191.25px;-webkit-text-stroke:0.15px;letter-spacing:0.098px;left:922px;width:600px;text-align:center;"><span>01/25/2026</span></div>
<div class="t" style="font-size:12.4px;color:#374151;top:1191.25px;-webkit-text-stroke:0.15px;letter-spacing:-0.004px;left:1034px;width:600px;text-align:center;"><span>Complete</span></div>
<div class="t" style="font-size:12.4px;color:#1f2937;top:1235.30px;-webkit-text-stroke:0.3px;letter-spacing:0.273px;left:1068.6px;"><span>Moisture</span></div>
<div class="t" style="font-size:12.4px;color:#374151;top:1235.30px;-webkit-text-stroke:0.15px;letter-spacing:0.098px;left:922px;width:600px;text-align:center;"><span>01/25/2026</span></div>
<div class="t" style="font-size:12.4px;color:#374151;top:1235.30px;-webkit-text-stroke:0.15px;letter-spacing:-0.568px;left:1034px;width:600px;text-align:center;"><span>9.62%</span></div>
<div class="t" style="font-size:15px;color:#374151;top:1305.60px;-webkit-text-stroke:0.5px;letter-spacing:0.629px;left:0.75px;width:1400px;text-align:center;"><span>Cannabinoid analysis performed using High Performance Liquid Chromatography with Diode Array Detection (HPLC-DAD) according to validated method SOP QA-001.</span></div>
<div class="t" style="font-size:13.2px;color:#374151;top:1332.30px;-webkit-text-stroke:0.15px;letter-spacing:0.268px;left:401.29999999999995px;width:600px;text-align:center;"><span>Total THC = Δ9-THC + 0.877 * THCa</span></div>
<div class="t" style="font-size:13.2px;color:#374151;top:1352.30px;-webkit-text-stroke:0.15px;letter-spacing:0.220px;left:401.29999999999995px;width:600px;text-align:center;"><span>Total CBD = CBD + 0.877 * CBDa</span></div>
<div class="t" style="font-size:13.2px;color:#374151;top:1370.80px;-webkit-text-stroke:0.15px;letter-spacing:0.445px;left:43.25px;"><span>*Total Cannabinoids = Sum of individual cannabinoids detected. Other Detected: The reported result is based on a sample weight with the applicable moisture content for that sample. Unless otherwise stated all</span></div>
<div class="t" style="font-size:13.2px;color:#374151;top:1390.80px;-webkit-text-stroke:0.15px;letter-spacing:0.413px;left:43.25px;"><span>quality control samples performed within specifications established by the Laboratory. HL105.10-01. Cannabinoid Testing: Pass/Fail status determined based on thresholds established under North Carolina hemp</span></div>
<div class="t" style="font-size:13.2px;color:#374151;top:1410.60px;-webkit-text-stroke:0.15px;letter-spacing:0.336px;left:400.75px;width:600px;text-align:center;"><span>regulations and federal Farm Bill limits.</span></div>
<div class="t" style="font-size:14.6px;color:#4b5563;top:1592.30px;letter-spacing:0.551px;left:10.2px;-webkit-text-stroke:0.2px;"><span>Scan for digital copy</span></div>
<div class="t" style="font-size:13.2px;color:#374151;top:1474.80px;-webkit-text-stroke:0.15px;letter-spacing:0.499px;left:168px;"><span>Quantix Analytics performs analytical testing using validated internal methodologies and quality control</span></div>
<div class="t" style="font-size:13.2px;color:#374151;top:1494.20px;-webkit-text-stroke:0.15px;letter-spacing:0.432px;left:168px;"><span>protocols. All results apply only to the sample(s) tested. This Certificate is not a declaration of product safety,</span></div>
<div class="t" style="font-size:13.2px;color:#374151;top:1513.70px;-webkit-text-stroke:0.15px;letter-spacing:0.421px;left:168px;"><span>efficacy, or regulatory compliance, and should not be construed as state or federal endorsement. Testing is</span></div>
<div class="t" style="font-size:13.2px;color:#374151;top:1533.20px;-webkit-text-stroke:0.15px;letter-spacing:0.465px;left:168px;"><span>performed in accordance with North Carolina Department of Agriculture &amp; Consumer Services (NCDA&amp;CS)</span></div>
<div class="t" style="font-size:13.2px;color:#374151;top:1552.70px;-webkit-text-stroke:0.15px;letter-spacing:0.372px;left:168px;"><span>guidance and fully complies with the federal USDA Domestic Hemp Production Program (7 CFR Part 990).</span></div>
<div class="t" style="font-size:13.2px;color:#374151;top:1578.30px;-webkit-text-stroke:0.15px;letter-spacing:0.505px;left:168px;"><span>This report may not be reproduced except in full without written approval from Quantix Analytics.</span></div>
<div class="t" style="font-size:13.2px;color:#374151;top:1605.30px;-webkit-text-stroke:0.15px;letter-spacing:0.365px;left:168px;"><span>For inquiries, contact support@quantixanalytics.com | Raleigh, NC | www.quantixanalytics.com</span></div>
<div class="t" style="font-size:15.2px;color:#374151;top:1476.30px;-webkit-text-stroke:0.5px;letter-spacing:0.524px;right:22.30px;"><span>Quantix Analytics</span></div>
<div class="t" style="font-size:15.2px;color:#4b5563;top:1496.30px;letter-spacing:0.033px;right:22.30px;"><span>All Rights Reserved</span></div>
<div class="t" style="font-size:15.2px;color:#4b5563;top:1516.10px;letter-spacing:0.330px;right:22.30px;"><span>support@quantixanalytics.com</span></div>
<div class="t" style="font-size:15.2px;color:#4b5563;top:1536.30px;letter-spacing:0.285px;right:22.30px;"><span>www.quantixanalytics.com</span></div>
<div class="t" style="font-size:15.2px;color:#1f2937;top:1712.10px;-webkit-text-stroke:0.5px;letter-spacing:0.462px;right:22.30px;"><span>Sarah Mitchell</span></div>
<div class="t" style="font-size:15.2px;color:#4b5563;top:1732.60px;letter-spacing:0.353px;right:22.30px;"><span>Laboratory Director</span></div>
<div class="t" style="font-size:15.2px;color:#4b5563;top:1752.30px;letter-spacing:0.518px;right:22.30px;"><span>01/25/2026</span></div>
</body></html>
